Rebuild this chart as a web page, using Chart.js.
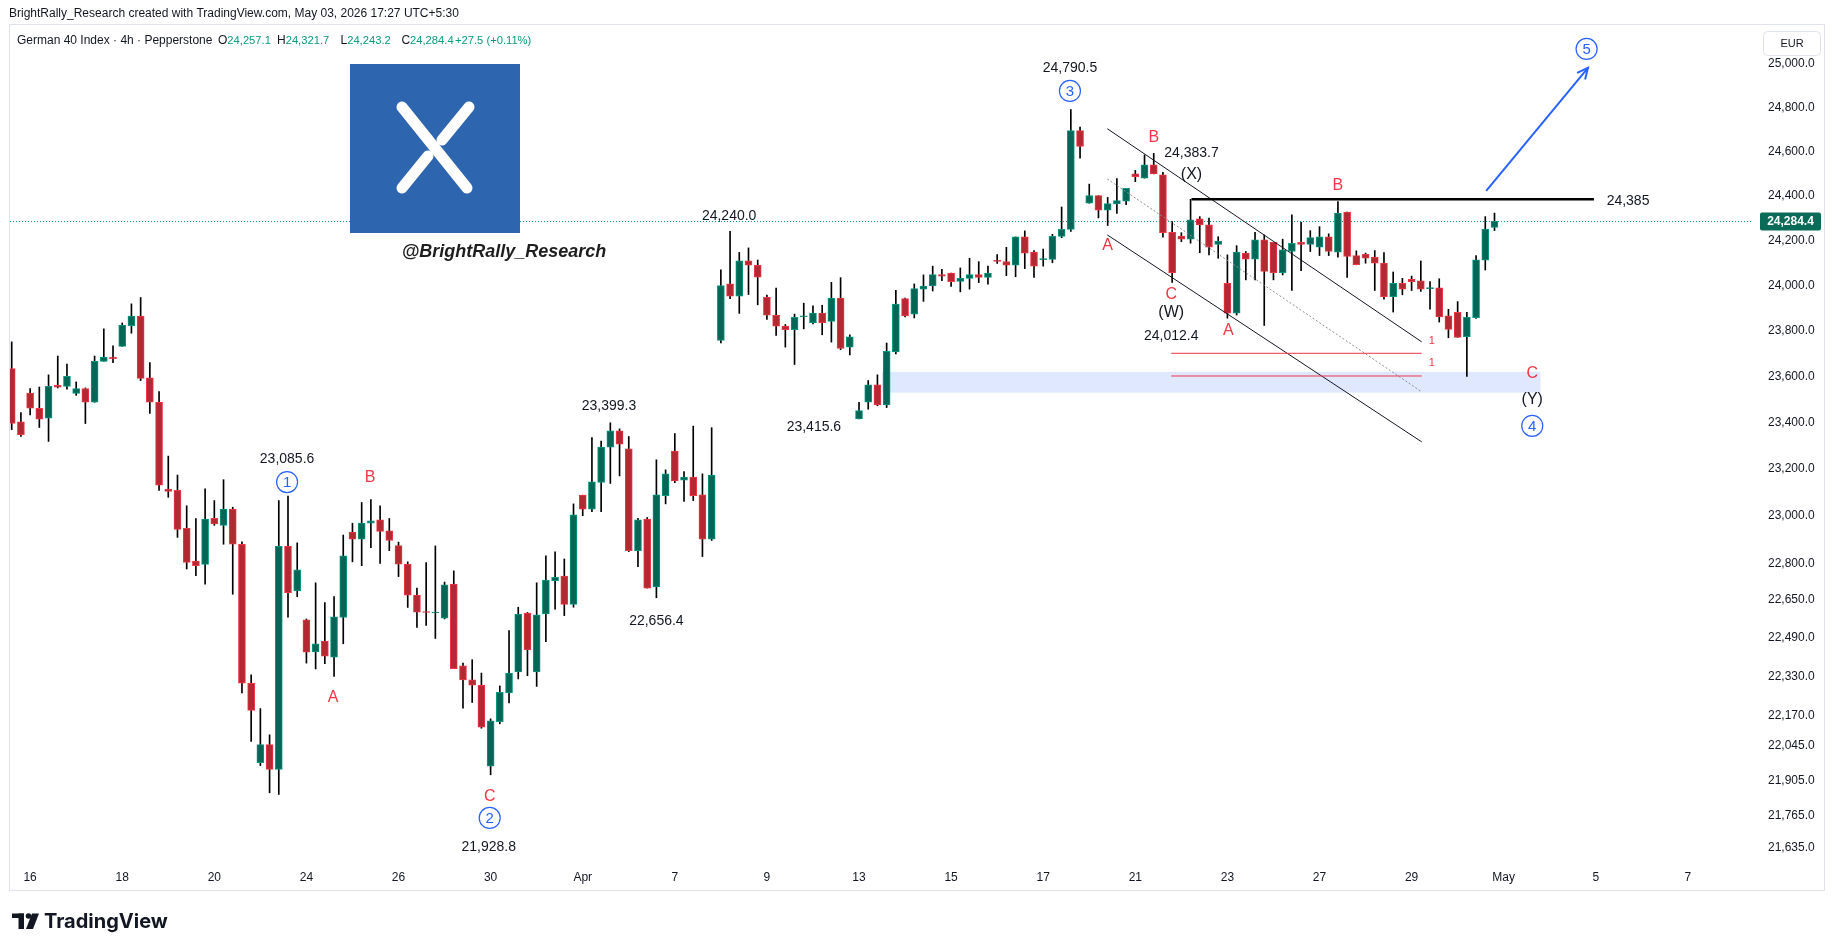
<!DOCTYPE html>
<html><head><meta charset="utf-8">
<script src="https://cdn.jsdelivr.net/npm/chart.js@4/dist/chart.umd.min.js"></script>
<style>html,body{margin:0;padding:0;background:#fff;overflow:hidden}#wrap{position:absolute;left:0;top:0;width:1835px;height:951px}</style>
</head><body><div id="wrap"><canvas id="c" width="1835" height="951"></canvas></div>
<script>
// ---------- DATA ----------
const opens = [
23634,23403,23528,23462,23419,23561,23557,23526,23547,23488,
23666,23684,23731,23822,23864,23594,23488,23115,23110,22948,
22810,22796,22991,22961,23030,22881,22302,21978,22051,21951,
22872,22685,22564,22431,22476,22410,22574,22932,22903,22970,
22984,22938,22875,22798,22668,22599,22593,22571,22714,22374,
22316,22294,21964,22145,22262,22349,22592,22349,22589,22728,
22747,22629,23089,23030,23143,23294,23365,23287,22854,22988,
22702,23087,23278,23153,23166,23090,22903,23757,24006,23952,
24109,24089,23947,23868,23820,23804,23860,23835,23877,23841,
23944,23728,23416,23488,23564,23477,23707,23941,23873,23983,
23997,24047,24054,24017,24031,24047,24035,24109,24105,24089,
24215,24148,24114,24115,24217,24249,24694,24366,24400,24335,
24363,24375,24498,24479,24539,24494,24236,24219,24205,24296,
24269,24182,24009,23877,24143,24116,24202,24191,24056,24150,
24191,24182,24169,24216,24147,24326,24132,24138,24125,24098,
23950,24009,24027,24020,23985,23989,23865,23881,23774,23857,
24111,24257.1];
const highs = [
23751,23443,23547,23554,23607,23689,23654,23576,23550,23689,
23808,23734,23834,23918,23946,23660,23534,23256,23175,23044,
22990,23116,23066,23155,23038,22891,22337,22198,22091,23066,
23085.6,22887,22568,22719,22636,22661,22920,22970,23058,23070,
23044,22990,22890,22807,22697,22804,22874,22722,22769,22385,
22399,22344,22156,22291,22520,22617,22595,22719,22832,22849,
22819,23052,23089,23336,23321,23399.3,23373,23340,22991,22994,
23240,23197,23353,23190,23385,23180,23378,24069,24240,24146,
24166,24112,23957,23988,23827,23873,23921,23909,23912,24013,
24034,23782,23488,23582,23607,23746,23978,23943,24006,24046,
24085,24071,24054,24077,24120,24105,24085,24136,24169,24215,
24242,24154,24161,24227,24349,24790.5,24710,24452,24400,24392,
24477,24433,24514,24584,24591,24505,24284,24234,24383.7,24306,
24299,24216,24135,24176,24150,24236,24224,24191,24205,24314,
24280,24243,24261,24229,24373,24326,24153,24143,24154,24145,
24059,24031,24041,24108,24016,24029,23894,23928,23881,24132,
24306,24321.7];
const lows = [
23370,23341,23433,23379,23319,23550,23545,23518,23396,23488,
23666,23660,23731,23789,23582,23440,23109,23080,22910,22777,
22749,22713,22961,22881,22671,22262,22064,21966,21856,21850,
22575,22661,22385,22361,22383,22330,22465,22807,22791,22867,
22800,22854,22745,22616,22533,22541,22487,22568,22362,22200,
22223,22118,21928.8,22136,22221,22320,22333,22289,22474,22609,
22582,22617,23002,23019,23019,23139,23171,22850,22787,22697,
22656.4,23052,23142,23062,23066,22829,22897,23746,23941,23876,
23959,23914,23850,23779,23728,23652,23808,23830,23782,23750,
23717,23694,23415.6,23458,23473,23465,23698,23860,23856,23929,
23975,24020,23995,23971,23983,24012,24005,24097,24043,24038,
24074,24035,24085,24100,24212,24240,24569,24366,24300,24266,
24320,24359,24463,24479,24498,24214,24012.4,24194,24187,24145,
24135,24120,23855,23869,24024,24024,23823,24024,24046,23977,
24065,24150,24132,24132,24125,24035,24091,24098,23977,23939,
23882,23958,23977,23973,23895,23838,23769,23771,23600,23854,
24068,24243.2];
const closes = [
23396,23348,23462,23415,23557,23553,23601,23547,23488,23666,
23685,23678,23825,23864,23591,23488,23132,23105,22944,22805,
22791,22988,22967,23030,22881,22302,22191,22051,21951,22872,
22678,22773,22430,22465,22414,22577,22832,22903,22970,22980,
22935,22897,22797,22667,22596,22595,22597,22710,22362,22316,
22294,22122,22148,22265,22344,22588,22440,22585,22730,22742,
22629,23005,23030,23146,23295,23365,23307,22854,22984,22697,
23090,23180,23150,23166,23087,22903,23175,23999,23952,24109,
24089,24036,23868,23820,23804,23859,23865,23877,23835,23944,
23722,23773,23452,23564,23477,23710,23917,23865,23986,23997,
24047,24041,24016,24031,24047,24035,24054,24106,24089,24215,
24143,24085,24117,24218,24249,24694,24623,24400,24335,24364,
24378,24433,24486,24539,24498,24234,24056,24205,24291,24269,
24169,24197,23877,24147,24116,24202,24061,24056,24157,24187,
24182,24212,24216,24150,24322,24128,24091,24120,24098,23950,
24009,23983,24016,23983,23989,23860,23806,23771,23859,24113,
24250,24284.4];
// time axis: bar index where each labelled day starts, and the label
const xTickBars   = [2,12,22,32,42,52,62,72,82,92,102,112,122,132,142,152,162,172,182];
const xTickLabels = ['16','18','20','24','26','30','Apr','7','9','13','15','17','21','23','27','29','May','5','7'];
const yTickValues = [25000,24800,24600,24400,24200,24000,23800,23600,23400,23200,23000,22800,22650,22490,22330,22170,22045,21905,21765,21635];
const lastPrice = 24284.4;
const legendOHLC = {O:'24,257.1', H:'24,321.7', L:'24,243.2', C:'24,284.4', chg:'+27.5 (+0.11%)'};

// ---------- ANNOTATIONS (bar index, price) ----------
const numLabels = [['23,085.6',29.9,23244],['21,928.8',51.8,21639],['23,399.3',64.85,23472],['22,656.4',70,22560],
  ['24,240.0',77.9,24309],['23,415.6',87.1,23381],['24,790.5',114.9,24982],['24,383.7',128.1,24593],['24,012.4',125.9,23777],['24,385',175.5,24376]];
const redLetters = [['B',38.9,23162],['A',34.9,22242],['C',51.9,21839],['A',119,24175],['B',124,24661],['C',125.9,23957],['A',132.1,23799],['B',144,24444],['C',165.1,23611]];
const parenLabels = [['(X)',128.1,24494],['(W)',125.9,23878],['(Y)',165.1,23498]];
const circleLabels = [['1',29.9,23145],['2',51.9,21755],['3',114.9,24876],['4',165.1,23386],['5',171,25069]];
const smallRed = [['1',154.2,23756],['1',154.2,23658]];
const channel = {upper:[[118.96,24703],[153.1,23751]], lower:[[118.96,24224],[153.1,23317]], mid:[[118.96,24475],[153.1,23533]]};
const resistance = [[128.1,24383.7],[171.8,24383.7]];
const redLevels = [[[125.9,23701],[153.1,23701]],[[125.9,23602],[153.1,23602]]];
const zone = {from:94.5, to:166.0, lo:23530, hi:23620};
const arrow = [[160.1,24422],[171.15,24982]];

// ---------- STYLE ----------
const FONT = '"Liberation Sans", Arial, sans-serif';
const BULL_FILL='#056656', BULL_LINE='#089981', BEAR_FILL='#b22833', BEAR_LINE='#f23645';
const TXT='#131722', RED='#f23645', BLUE='#2962ff';
const fmt = v => v.toLocaleString('en-US',{minimumFractionDigits:1, maximumFractionDigits:1});

const bodies = opens.map((o,i)=>({x:i, y:[o, closes[i]]}));
const wicks = highs.map((h,i)=>({x:i, y:[lows[i], h]}));
const up = i => closes[i] >= opens[i];

function txt(ctx,s,x,y,font,color,align,base){ctx.font=font;ctx.fillStyle=color;ctx.textAlign=align||'center';ctx.textBaseline=base||'middle';ctx.fillText(s,x,y);}

const overlay = {
  id:'overlay',
  beforeDatasetsDraw(chart){
    const {ctx, chartArea:a, scales:{x,y}} = chart;
    ctx.save();
    const x1=x.getPixelForValue(zone.from), x2=x.getPixelForValue(zone.to);
    const y1=y.getPixelForValue(zone.hi), y2=y.getPixelForValue(zone.lo);
    ctx.fillStyle='rgba(41,98,255,0.15)';
    ctx.fillRect(x1,y1,x2-x1,y2-y1);
    const py=Math.round(y.getPixelForValue(lastPrice))+0.5;
    ctx.strokeStyle='#089981'; ctx.lineWidth=1; ctx.setLineDash([1,2]);
    ctx.beginPath(); ctx.moveTo(a.left,py); ctx.lineTo(a.right,py); ctx.stroke();
    ctx.restore();
  },
  afterDatasetsDraw(chart){
    const {ctx, scales:{x,y}} = chart;
    const P = pt => [x.getPixelForValue(pt[0]), y.getPixelForValue(pt[1])];
    const line = (a,b,color,w,dash) => {const p=P(a),q=P(b);ctx.save();ctx.strokeStyle=color;ctx.lineWidth=w;ctx.setLineDash(dash||[]);ctx.beginPath();ctx.moveTo(p[0],p[1]);ctx.lineTo(q[0],q[1]);ctx.stroke();ctx.restore();};
    line(channel.upper[0],channel.upper[1],'#131722',1);
    line(channel.lower[0],channel.lower[1],'#131722',1);
    line(channel.mid[0],channel.mid[1],'#8a8d96',1,[2,2]);
    redLevels.forEach(l=>line(l[0],l[1],RED,1));
    line(resistance[0],resistance[1],'#000000',2.5);
    // arrow
    line(arrow[0],arrow[1],BLUE,2);
    const a0=P(arrow[0]), a1=P(arrow[1]);
    const ang=Math.atan2(a1[1]-a0[1],a1[0]-a0[0]);
    ctx.save();ctx.strokeStyle=BLUE;ctx.lineWidth=2;ctx.beginPath();
    ctx.moveTo(a1[0]-12*Math.cos(ang-0.45),a1[1]-12*Math.sin(ang-0.45));ctx.lineTo(a1[0],a1[1]);
    ctx.lineTo(a1[0]-12*Math.cos(ang+0.45),a1[1]-12*Math.sin(ang+0.45));ctx.stroke();ctx.restore();
    numLabels.forEach(l=>{const p=P([l[1],l[2]]);txt(ctx,l[0],p[0],p[1],'14px '+FONT,TXT);});
    redLetters.forEach(l=>{const p=P([l[1],l[2]]);txt(ctx,l[0],p[0],p[1],'16px '+FONT,RED);});
    parenLabels.forEach(l=>{const p=P([l[1],l[2]]);txt(ctx,l[0],p[0],p[1],'16px '+FONT,TXT);});
    smallRed.forEach(l=>{const p=P([l[1],l[2]]);txt(ctx,l[0],p[0],p[1],'11px '+FONT,RED);});
    circleLabels.forEach(l=>{const p=P([l[1],l[2]]);
      ctx.save();ctx.beginPath();ctx.arc(p[0],p[1],10.5,0,Math.PI*2);ctx.fillStyle='#fff';ctx.fill();ctx.strokeStyle=BLUE;ctx.lineWidth=1.2;ctx.stroke();ctx.restore();
      txt(ctx,l[0],p[0],p[1]+1,'15px '+FONT,BLUE);});
  },
  afterDraw(chart){
    const {ctx, scales:{y}} = chart;
    ctx.save();
    // pane border
    ctx.strokeStyle='#e0e3eb';ctx.lineWidth=1;ctx.strokeRect(9.5,24.5,1815,866);
    // header
    txt(ctx,'BrightRally_Research created with TradingView.com, May 03, 2026 17:27 UTC+5:30',9,14,'12px '+FONT,TXT,'left');
    // legend
    const ly=41, lf='12px '+FONT, vf='11.2px '+FONT;
    txt(ctx,'German 40 Index · 4h · Pepperstone',17,ly,lf,TXT,'left');
    const parts=[['O',218,legendOHLC.O],['H',277,legendOHLC.H],['L',340.5,legendOHLC.L],['C',401.4,legendOHLC.C]];
    parts.forEach(p=>{ctx.font=lf;const w=ctx.measureText(p[0]).width;txt(ctx,p[0],p[1],ly,lf,TXT,'left');txt(ctx,p[2],p[1]+w,ly,vf,'#089981','left');});
    txt(ctx,legendOHLC.chg,455,ly,vf,'#089981','left');
    // brand logo box
    ctx.fillStyle='#2e65af';ctx.fillRect(350,64,170,169);
    ctx.strokeStyle='#fff';ctx.lineCap='round';ctx.lineWidth=11;
    ctx.beginPath();ctx.moveTo(402,107);ctx.lineTo(467,188);ctx.stroke();
    ctx.beginPath();ctx.moveTo(469,107);ctx.lineTo(442,140);ctx.stroke();
    ctx.beginPath();ctx.moveTo(428,156);ctx.lineTo(402,188);ctx.stroke();
    txt(ctx,'@BrightRally_Research',504,252,'italic bold 18px '+FONT,'#1e1e1e');
    // EUR box
    ctx.lineCap='butt';
    ctx.fillStyle='#fff';ctx.strokeStyle='#e0e3eb';ctx.lineWidth=1;
    ctx.beginPath();ctx.roundRect(1763.5,31.5,57,24,4);ctx.fill();ctx.stroke();
    txt(ctx,'EUR',1792,44,'11px '+FONT,TXT);
    // last price tag
    const py=y.getPixelForValue(lastPrice);
    ctx.fillStyle='#0b6b59';ctx.beginPath();ctx.roundRect(1760,py-9,61,18,2);ctx.fill();
    txt(ctx,fmt(lastPrice),1790.5,py+0.5,'bold 12px '+FONT,'#fff');
    // TradingView logo
    ctx.fillStyle=TXT;
    ctx.fillRect(12,913.5,12,4.5);ctx.fillRect(18.5,913.5,5.5,15.5);
    ctx.beginPath();ctx.arc(28.5,916,2.8,0,Math.PI*2);ctx.fill();
    ctx.beginPath();ctx.moveTo(32,913.5);ctx.lineTo(39,913.5);ctx.lineTo(33,929);ctx.lineTo(26,929);ctx.closePath();ctx.fill();
    txt(ctx,'TradingView',44,921.5,'bold 20px Inter, '+FONT,TXT,'left');
    ctx.restore();
  }
};

new Chart(document.getElementById('c'), {
  type:'bar',
  data:{datasets:[
    {data:bodies, grouped:false, barThickness:7, borderWidth:1, borderSkipped:false, minBarLength:1,
     backgroundColor:c=>up(c.dataIndex)?BULL_FILL:BEAR_FILL, borderColor:c=>up(c.dataIndex)?BULL_LINE:BEAR_LINE},
    {data:wicks, grouped:false, barThickness:1, borderWidth:0, backgroundColor:'#000000'}
  ]},
  options:{
    responsive:false, animation:false, devicePixelRatio:1, events:[],
    layout:{padding:{left:10,right:10,top:25,bottom:60}},
    plugins:{legend:{display:false}, tooltip:{enabled:false}},
    scales:{
      x:{type:'linear', min:-0.185, max:188.96, offset:false,
         grid:{display:false, drawTicks:false, offset:false}, border:{display:false},
         afterBuildTicks:s=>{s.ticks=xTickBars.map(v=>({value:v}));},
         afterFit:s=>{s.height=29;},
         ticks:{autoSkip:false, maxRotation:0, padding:8, color:TXT, font:{family:FONT,size:12},
                callback:v=>{const k=xTickBars.indexOf(v);return k>=0?xTickLabels[k]:'';}}},
      y:{type:'logarithmic', position:'right', min:21579, max:25180, beginAtZero:false,
         grid:{display:false, drawTicks:false}, border:{display:false},
         afterBuildTicks:s=>{s.ticks=yTickValues.map(v=>({value:v}));},
         afterFit:s=>{s.width=73;},
         ticks:{padding:16, color:TXT, font:{family:FONT,size:12}, callback:v=>fmt(v)}}
    }
  },
  plugins:[overlay]
});
</script></body></html>
